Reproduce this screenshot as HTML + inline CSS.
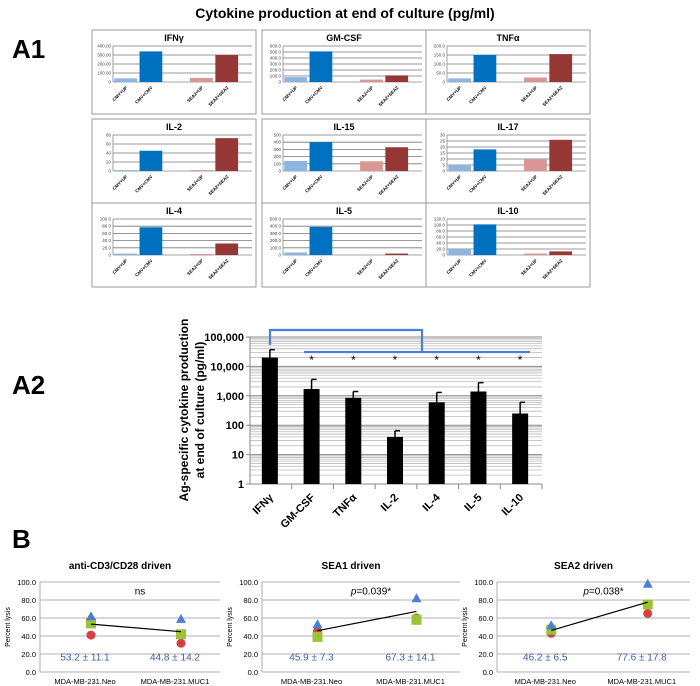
<!DOCTYPE html>
<html><head><meta charset="utf-8"><style>
body{margin:0;background:#fff}
svg{display:block;font-family:"Liberation Sans",sans-serif}
</style></head><body>
<svg id="s" width="700" height="686" viewBox="0 0 700 686" xmlns="http://www.w3.org/2000/svg">
<text x="12" y="58" font-size="26" font-weight="bold">A1</text>
<text x="345" y="18" font-size="14" font-weight="bold" text-anchor="middle">Cytokine production at end of culture (pg/ml)</text>
<text x="12" y="394" font-size="26" font-weight="bold">A2</text>
<text x="12" y="548" font-size="26" font-weight="bold">B</text>
<g id="a1"></g>
<g id="a2"></g>
<g id="b"></g>
</svg>
<script>
// ---- A1 data ----
const a1Names=["IFNγ","GM-CSF","TNFα","IL-2","IL-15","IL-17","IL-4","IL-5","IL-10"];
const a1Max=[400,600,200,80,500,30,100,500,120];
const a1Step=[100,100,50,20,100,5,20,100,20];
const a1Dec=[2,1,1,0,0,0,1,1,1];
const a1Cats=["CMV+UP","CMV+CMV","SEA2+UP","SEA2+SEA2"];
const a1Vals=[[40,340,45,300],[80,510,40,110],[20,150,25,155],[2,45,2,73],[140,400,135,330],[5,18,9.5,26],[4,77,3,32],[35,390,5,20],[18,102,5,12]];
// ---- A2 data ----
const a2Cats=["IFNγ","GM-CSF","TNFα","IL-2","IL-4","IL-5","IL-10"];
const a2Vals=[20000,1700,850,40,600,1400,250];
const a2Err=[37000,3600,1400,65,1300,2800,600];
const a2Ticks=[1,10,100,1000,10000,100000];
const a2TickLabels=["1","10","100","1,000","10,000","100,000"];
// ---- B data ----
const bTitles=["anti-CD3/CD28 driven","SEA1 driven","SEA2 driven"];
const bCats=["MDA-MB-231.Neo","MDA-MB-231.MUC1"];
const bTri=[[62,59],[53,82],[52,98]];
const bSq=[[54,42],[39,58],[47,75]];
const bCirc=[[41,32],[45,60],[43,65]];
const bMean=[[53.2,44.8],[45.9,67.3],[46.2,77.6]];
const bLabels=[["53.2 ± 11.1","44.8 ± 14.2"],["45.9 ± 7.3","67.3 ± 14.1"],["46.2 ± 6.5","77.6 ± 17.8"]];
const bSig=["ns","p=0.039*","p=0.038*"];
const bTicks=[0,20,40,60,80,100];

const NS="http://www.w3.org/2000/svg";
function mk(p,tag,at,txt){const e=document.createElementNS(NS,tag);for(const k in at)e.setAttribute(k,at[k]);if(txt!==undefined)e.textContent=txt;p.appendChild(e);return e;}

// A1
const colX=[92,262,426],rowY=[30,119,203],PW=164,PH=84;
const cols=["#8db4e2","#0070c0","#d99694","#953735"];
const g1=document.getElementById('a1');
a1Names.forEach((nm,k)=>{
  const px=colX[k%3],py=rowY[Math.floor(k/3)];
  const p=mk(g1,'g',{});
  
  
  mk(p,'rect',{x:px,y:py,width:PW,height:PH,fill:'#fff',stroke:'#999','stroke-width':1});
  const t=mk(p,'text',{x:px+PW/2,y:py+11,'font-size':9,'font-weight':'bold','text-anchor':'middle'},nm);
  
  const L=px+21,R=px+PW-4,T=py+16,B=py+52,W=R-L;
  const y=v=>B-(v/a1Max[k])*(B-T);
  for(let v=0;v<=a1Max[k]+1e-9;v+=a1Step[k]){
    mk(p,'line',{x1:L,x2:R,y1:y(v),y2:y(v),stroke:v===0?'#888':'#777','stroke-width':0.8});
    mk(p,'text',{x:L-2,y:y(v)+1.5,'font-size':4.5,'text-anchor':'end',fill:'#444'},v===0?'0':v.toFixed(a1Dec[k]));
  }
  mk(p,'line',{x1:L,x2:L,y1:T,y2:B,stroke:'#888','stroke-width':0.8});
  const slot=W/5.5,idx=[1,2,4,5];
  a1Vals[k].forEach((v,i)=>{
    const cx=L+idx[i]*slot-slot*0.5;
    const r=mk(p,'rect',{x:cx-slot*0.45,y:y(v),width:slot*0.9,height:B-y(v),fill:cols[i]});
    
    
    mk(p,'text',{x:cx+2,y:B+6,'font-size':4.5,'font-weight':'bold','text-anchor':'end',transform:`rotate(-45 ${cx+2} ${B+6})`},a1Cats[i]);
  });
});

// A2
const g2=document.getElementById('a2');
const L2=250,R2=542,T2=337,B2=484;
const ly=v=>B2-(Math.log10(v)/5)*(B2-T2);
for(let d=0;d<5;d++)for(let m=2;m<10;m++){const v=Math.pow(10,d)*m;mk(g2,'line',{x1:L2,x2:R2,y1:ly(v),y2:ly(v),stroke:'#bbb','stroke-width':0.8});}
a2Ticks.forEach((v,i)=>{
  mk(g2,'line',{x1:L2-4,x2:R2,y1:ly(v),y2:ly(v),stroke:'#888','stroke-width':1});
  const t=mk(g2,'text',{x:L2-6,y:ly(v)+4,'font-size':11,'font-weight':'bold','text-anchor':'end'},a2TickLabels[i]);
  
});
mk(g2,'line',{x1:L2,x2:L2,y1:T2,y2:B2,stroke:'#888','stroke-width':1});
const yt=mk(g2,'text',{'font-size':12,'font-weight':'bold','text-anchor':'middle',transform:'translate(188 410) rotate(-90)'});

mk(yt,'tspan',{x:0,dy:0},'Ag-specific cytokine production');
mk(yt,'tspan',{x:0,dy:16},'at end of culture (pg/ml)');
const sl=(R2-L2)/7;
a2Cats.forEach((c,i)=>{
  const cx=L2+sl*(i+0.5)-1;
  mk(g2,'line',{x1:L2+sl*(i+1),x2:L2+sl*(i+1),y1:B2,y2:B2+5,stroke:'#888'});
  mk(g2,'line',{x1:cx,x2:cx,y1:ly(a2Err[i]),y2:ly(a2Vals[i]),stroke:'#000','stroke-width':1.5});
  mk(g2,'line',{x1:cx,x2:cx+5,y1:ly(a2Err[i]),y2:ly(a2Err[i]),stroke:'#000','stroke-width':1.5});
  const r=mk(g2,'rect',{x:cx-8,y:ly(a2Vals[i]),width:16,height:B2-ly(a2Vals[i]),fill:'#000'});
  
  
  mk(g2,'text',{x:cx+4,y:B2+14,'font-size':11,'font-weight':'bold','text-anchor':'end',transform:`rotate(-45 ${cx+4} ${B2+14})`},c);
  if(i>0)mk(g2,'text',{x:cx,y:364,'font-size':12,'text-anchor':'middle'},'*');
});
const br=mk(g2,'path',{d:`M270 345 V330 H422 V352 M304 352 H530`,fill:'none',stroke:'#4a7ed8','stroke-width':2.2});


// B
const g3=document.getElementById('b');
const bx=[[40,220],[262,460],[497,690]];
bTitles.forEach((tt,k)=>{
  const p=mk(g3,'g',{});
  
  
  const L=bx[k][0],R=bx[k][1],T=582,B=672;
  const y=v=>B-(v/100)*(B-T);
  const x=i=>L+(R-L)*(0.25+0.5*i);
  mk(p,'text',{x:(L+R)/2-10,y:569,'font-size':10,'font-weight':'bold','text-anchor':'middle'},tt);
  bTicks.forEach(v=>{
    mk(p,'line',{x1:L,x2:R,y1:y(v),y2:y(v),stroke:'#999','stroke-width':0.8});
    mk(p,'text',{x:L-4,y:y(v)+3,'font-size':7.5,'text-anchor':'end'},v.toFixed(1));
  });
  mk(p,'line',{x1:L,x2:L,y1:T,y2:B,stroke:'#999','stroke-width':0.8});
  mk(p,'text',{'font-size':7,'text-anchor':'middle',transform:`translate(${L-30} ${(T+B)/2}) rotate(-90)`},'Percent lysis');
  bCats.forEach((c,i)=>{
    mk(p,'text',{x:x(i),y:684,'font-size':7.5,'text-anchor':'middle'},c);
    mk(p,'text',{x:x(i),y:y(13),'font-size':10,'text-anchor':'middle',fill:'#3e5fa3'},bLabels[k][i]);
    const cx=x(i)+6;
    mk(p,'circle',{cx:cx,cy:y(bCirc[k][i]),r:4.5,fill:'#d64040'});
    mk(p,'rect',{x:cx-5,y:y(bSq[k][i])-5,width:10,height:10,fill:'#9bc33a'});
    const ty=y(bTri[k][i]);
    mk(p,'polygon',{points:`${cx},${ty-5} ${cx+5},${ty+4} ${cx-5},${ty+4}`,fill:'#4a7ed8'});
  });
  const ln=mk(p,'line',{x1:x(0)+6,x2:x(1)+6,y1:y(bMean[k][0]),y2:y(bMean[k][1]),stroke:'#000','stroke-width':1.2});
  
  const s=mk(p,'text',{x:(L+R)/2+10,y:y(86),'font-size':10,'text-anchor':'middle'});
  if(bSig[k]==='ns'){s.textContent='ns';}
  else{mk(s,'tspan',{'font-style':'italic'},'p');mk(s,'tspan',{},bSig[k].slice(1));}
});
</script>
</body></html>
